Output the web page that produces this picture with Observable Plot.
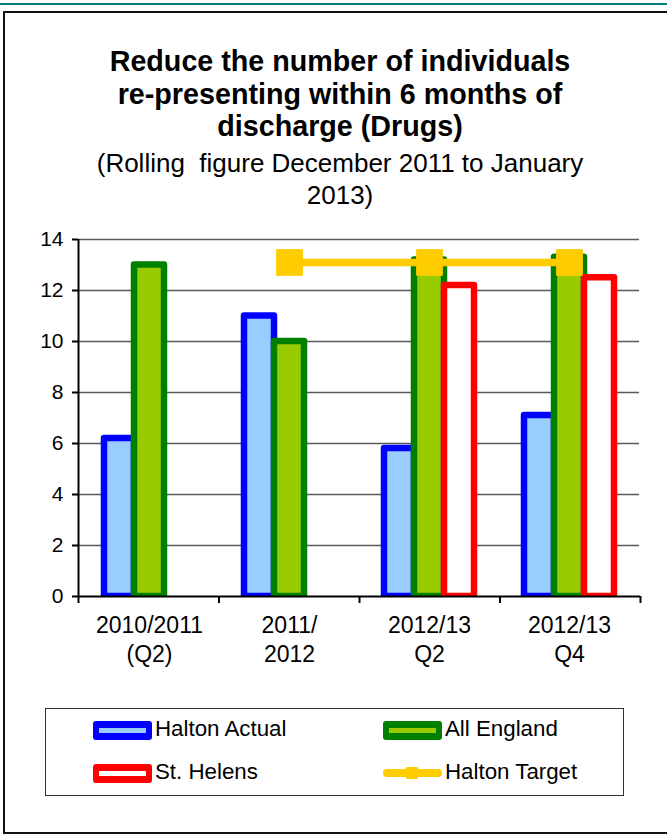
<!DOCTYPE html>
<html><head><meta charset="utf-8">
<script src="https://cdn.jsdelivr.net/npm/d3@7"></script>
<script src="https://cdn.jsdelivr.net/npm/@observablehq/plot@0.6"></script>
<style>
html,body{margin:0;padding:0;background:#fff;}
body{width:667px;height:835px;overflow:hidden;position:relative;font-family:"Liberation Sans",Arial,sans-serif;color:#000;}
#teal{position:absolute;left:0;top:3px;width:667px;height:2px;background:#0a7c7c;}
#frame{position:absolute;left:3px;top:11px;width:720px;height:823px;border:2px solid #111;box-sizing:border-box;}
#title{position:absolute;left:40px;width:600px;top:45px;font-weight:bold;font-size:28.7px;line-height:32.5px;text-align:center;white-space:nowrap;}
#subtitle{position:absolute;left:40px;width:600px;top:147px;font-size:26px;line-height:32px;text-align:center;white-space:nowrap;}
.layer{position:absolute;left:0;top:220px;}
.layer svg{background:transparent !important;font-family:"Liberation Sans",Arial,sans-serif;overflow:visible;}
.layerD line,.layerD path{stroke-width:2px;stroke:#000;}
.layerD text{font-size:21px;fill:#000;font-family:"Liberation Sans",Arial,sans-serif;}
#legend{position:absolute;left:45px;top:708px;width:579px;height:88px;border:1.5px solid #333;box-sizing:border-box;}
.sw{position:absolute;height:19px;width:59px;border-radius:3px;}
.sw i{position:absolute;left:6px;right:6px;top:7px;height:5px;display:block;}
.lt{position:absolute;font-size:22.3px;line-height:22px;white-space:nowrap;}
</style>
</head><body>
<div id="teal"></div>
<div id="frame"></div>
<div id="title">Reduce the number of individuals<br>re-presenting within 6 months of<br>discharge (Drugs)</div>
<div id="subtitle">(Rolling&nbsp; figure December 2011 to January<br>2013)</div>
<div id="chartB" class="layer layerB"></div>
<div id="chartC" class="layer layerC"></div>
<div id="chartD" class="layer layerD"></div>
<div id="legend"></div>
<div id="legendItems"></div>
<script>
// ---- data ----
const categories = ["2010/2011 (Q2)", "2011/ 2012", "2012/13 Q2", "2012/13 Q4"];
const labelLine1 = ["2010/2011", "2011/", "2012/13", "2012/13"];
const labelLine2 = ["(Q2)", "2012", "Q2", "Q4"];
const seriesNames = ["Halton Actual", "All England", "St. Helens"];
const haltonActual = [6.2, 11.0, 5.8, 7.1];
const allEngland = [13.0, 10.0, 13.2, 13.3];
const stHelens = [null, null, 12.2, 12.5];
const haltonTarget = [null, 13.1, 13.1, 13.1];
const targetName = "Halton Target";
const yTicks = [0, 2, 4, 6, 8, 10, 12, 14];

// ---- styles ----
const fills = ["#99CCFF", "#99CC00", "#FFFFFF"];
const strokes = ["#0000FF", "#008000", "#FF0000"];
const targetColor = "#FFCC00";

const seriesValues = [haltonActual, allEngland, stHelens];
const rows = categories.flatMap((c, i) =>
  seriesNames.map((s, k) => ({category: c, series: s, value: seriesValues[k][i]})));
const targetRows = categories.map((c, i) => ({category: c, value: haltonTarget[i]}));

const dims = {width: 667, height: 470, marginLeft: 78, marginRight: 27, marginTop: 19, marginBottom: 94};

// bars + gridlines (faceted by category)
const plotB = Plot.plot({
  ...dims,
  facet: {data: rows, x: "category"},
  fx: {domain: categories, padding: 0, axis: null},
  x: {domain: seriesNames, paddingInner: 0, paddingOuter: 0.766, axis: null},
  y: {domain: [0, 14], axis: null},
  marks: [
    Plot.ruleY(yTicks.filter(v => v > 0), {stroke: "#5a5a5a", strokeWidth: 1.5}),
    ...seriesNames.map((s, k) => Plot.barY(rows, {
      filter: d => d.series === s && d.value != null,
      x: "series", y: "value",
      fill: fills[k], stroke: strokes[k], strokeWidth: 6.5, strokeLinejoin: "round", clip: true
    }))
  ]
});
document.getElementById("chartB").appendChild(plotB);

// target line + category labels
const plotC = Plot.plot({
  ...dims,
  x: {type: "point", domain: categories, padding: 0.5, axis: null},
  y: {domain: [0, 14], axis: null},
  marks: [
    Plot.lineY(targetRows, {x: "category", y: "value", stroke: targetColor, strokeWidth: 7.5}),
    Plot.dot(targetRows.filter(d => d.value != null), {x: "category", y: "value", symbol: "square", r: 14.5, fill: targetColor, stroke: targetColor, strokeWidth: 1, strokeLinejoin: "round"}),
    Plot.text(categories, {x: d => d, text: (d, i) => labelLine1[i], frameAnchor: "bottom", dy: 36, fontSize: 23, fill: "black"}),
    Plot.text(categories, {x: d => d, text: (d, i) => labelLine2[i], frameAnchor: "bottom", dy: 65, fontSize: 23, fill: "black"})
  ]
});
document.getElementById("chartC").appendChild(plotC);

// axes
const plotD = Plot.plot({
  ...dims,
  x: {domain: [0, categories.length], ticks: d3.range(0, categories.length + 1), tickFormat: () => "", tickSize: 7, label: null},
  y: {domain: [0, 14], ticks: yTicks, tickSize: 6, tickPadding: 9, label: null},
  marks: [
    Plot.ruleY([0], {stroke: "black", strokeWidth: 2}),
    Plot.ruleX([0], {stroke: "black", strokeWidth: 2})
  ]
});
document.getElementById("chartD").appendChild(plotD);

// legend
const legendEntries = [
  {name: seriesNames[0], kind: "bar", k: 0, left: 93, cy: 730},
  {name: seriesNames[1], kind: "bar", k: 1, left: 383, cy: 730},
  {name: seriesNames[2], kind: "bar", k: 2, left: 93, cy: 773},
  {name: targetName, kind: "line", left: 383, cy: 773}
];
const li = document.getElementById("legendItems");
for (const e of legendEntries) {
  if (e.kind === "bar") {
    const sw = document.createElement("div");
    sw.className = "sw";
    sw.style.left = e.left + "px";
    sw.style.top = (e.cy - 9.5) + "px";
    sw.style.background = strokes[e.k];
    const inner = document.createElement("i");
    inner.style.background = fills[e.k];
    sw.appendChild(inner);
    li.appendChild(sw);
  } else {
    const ln = document.createElement("div");
    ln.style.cssText = `position:absolute;left:${e.left}px;top:${e.cy - 4}px;width:59px;height:8px;border-radius:4px;background:${targetColor}`;
    li.appendChild(ln);
    const sq = document.createElement("div");
    sq.style.cssText = `position:absolute;left:${e.left + 23}px;top:${e.cy - 6}px;width:12px;height:12px;border-radius:1px;background:${targetColor}`;
    li.appendChild(sq);
  }
  const t = document.createElement("div");
  t.className = "lt";
  t.textContent = e.name;
  t.style.left = (e.left + 62) + "px";
  t.style.top = (e.cy - 12) + "px";
  li.appendChild(t);
}
</script>
</body></html>
